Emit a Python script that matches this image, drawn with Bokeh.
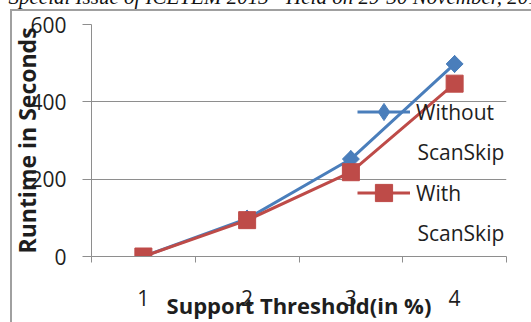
from bokeh.plotting import figure
from bokeh.models import Range1d, FixedTicker, Legend, LegendItem, Label
from bokeh.embed import file_html
from bokeh.resources import INLINE

# Runtime (seconds) per support threshold (%)
thresholds = [1, 2, 3, 4]
without_scanskip = [0, 98, 252, 498]
with_scanskip = [0, 94, 218, 447]
y_ticks = [0, 200, 400, 600]

BLUE = "#4A7EBB"
RED = "#BE4B48"
GRID = "#8E8E8E"
TEXT = "#1E1E1E"
FRAME = "#A0A0A0"
FONT = "Open Sans"

# thin page frame (top and left edges) behind the transparent plot margin
frame_css = (f"linear-gradient({FRAME},{FRAME}) 10px 9px / 2px 400px no-repeat, "
             f"linear-gradient({FRAME},{FRAME}) 10px 9px / 600px 2px no-repeat, "
             "#ffffff")

p = figure(width=531, height=322, output_backend="svg", toolbar_location=None,
           x_range=Range1d(0.5, 4.5), y_range=Range1d(0, 600),
           min_border_left=91, min_border_right=25,
           min_border_top=24, min_border_bottom=66,
           styles={"background": frame_css})
p.outline_line_color = None
p.background_fill_color = "white"
p.border_fill_alpha = 0

# grid
p.xgrid.visible = False
p.ygrid.ticker = FixedTicker(ticks=y_ticks)
p.ygrid.grid_line_color = GRID
p.ygrid.grid_line_width = 1

# y axis, its title overlapping the tick labels
ya = p.yaxis[0]
ya.ticker = FixedTicker(ticks=y_ticks)
ya.axis_line_color = GRID
ya.major_tick_line_color = GRID
ya.major_tick_out = 9
ya.major_tick_in = 0
ya.minor_tick_line_color = None
ya.major_label_standoff = 16
ya.major_label_text_font = FONT
ya.major_label_text_font_size = "21px"
ya.major_label_text_color = TEXT
ya.axis_label = "Runtime in Seconds"
ya.axis_label_standoff = -16
ya.axis_label_text_font = FONT
ya.axis_label_text_font_size = "23px"
ya.axis_label_text_font_style = "bold"
ya.axis_label_text_color = TEXT

# x axis: labels at categories, ticks between them
xa = p.xaxis[0]
xa.ticker = FixedTicker(ticks=thresholds, minor_ticks=[0.5, 1.5, 2.5, 3.5, 4.5])
xa.axis_line_color = GRID
xa.major_tick_line_color = None
xa.major_tick_out = 0
xa.major_tick_in = 0
xa.minor_tick_line_color = GRID
xa.minor_tick_out = 6
xa.minor_tick_in = 0
xa.major_label_standoff = 27
xa.major_label_text_font = FONT
xa.major_label_text_font_size = "21px"
xa.major_label_text_color = TEXT
xa.axis_label = "Support Threshold(in %)"
xa.axis_label_standoff = -19
xa.axis_label_text_font = FONT
xa.axis_label_text_font_size = "22px"
xa.axis_label_text_font_style = "bold"
xa.axis_label_text_color = TEXT

# series (a diamond under each rotated square gives the legend its swatch)
bl = p.line(thresholds, without_scanskip, line_color=BLUE, line_width=3)
bkey = p.scatter(thresholds, without_scanskip, marker="diamond", size=17,
                 fill_color=BLUE, line_color=BLUE)
bm = p.scatter(thresholds, without_scanskip, marker="square", angle=0.785398,
               size=12, fill_color=BLUE, line_color=BLUE)
rl = p.line(thresholds, with_scanskip, line_color=RED, line_width=3)
rm = p.scatter(thresholds, with_scanskip, marker="square", size=17,
               fill_color=RED, line_color=RED)

legend = Legend(items=[LegendItem(label="Without", renderers=[bl, bkey]),
                       LegendItem(label="With", renderers=[rl, rm])],
                location=(266, 42), orientation="vertical",
                glyph_width=53, glyph_height=43, label_standoff=6,
                spacing=38, padding=0, margin=0,
                border_line_color=None, background_fill_alpha=0,
                label_text_font=FONT, label_text_font_size="21px",
                label_text_color=TEXT)
p.add_layout(legend)

# second line of each legend entry
for yv in (269, 62):
    p.add_layout(Label(x=3.642, y=yv, text="ScanSkip",
                       text_align="left", text_baseline="alphabetic",
                       text_font=FONT, text_font_size="21px", text_color=TEXT))

# running page header
p.add_layout(Label(x=-0.3, y=670,
                   text="Special Issue of ICETEM 2013 - Held on 29-30 November, 2013",
                   text_align="left", text_baseline="alphabetic",
                   text_font="Liberation Serif", text_font_size="21px",
                   text_font_style="italic", text_color="#111111"), "above")

open("out.html", "w").write(file_html(p, INLINE))
